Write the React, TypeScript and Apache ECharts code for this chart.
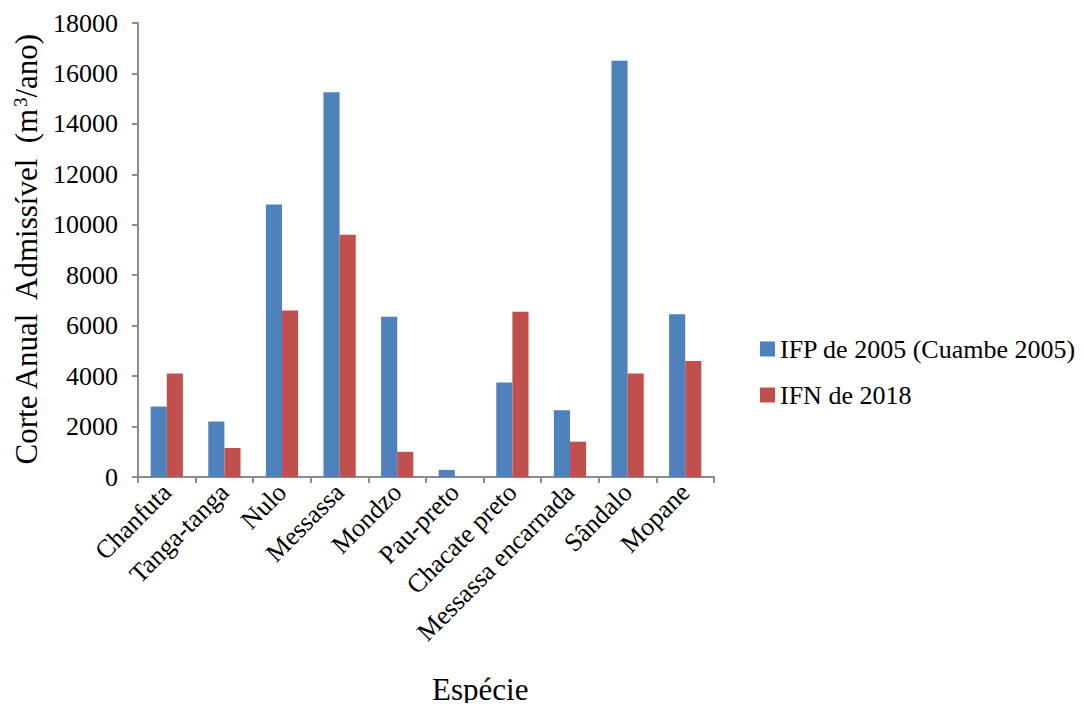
import React, { useEffect, useRef } from "react";
import * as echarts from "echarts";

const categories = [
  "Chanfuta",
  "Tanga-tanga",
  "Nulo",
  "Messassa",
  "Mondzo",
  "Pau-preto",
  "Chacate preto",
  "Messassa encarnada",
  "Sândalo",
  "Mopane",
];
const ifp2005 = [2800, 2200, 10800, 15250, 6350, 280, 3750, 2650, 16500, 6450];
const ifn2018 = [4100, 1150, 6600, 9600, 1000, 0, 6550, 1400, 4100, 4600];
const seriesNames = ["IFP de 2005 (Cuambe 2005)", "IFN de 2018"];
const yTicks = { min: 0, max: 18000, interval: 2000 };

const FONT = "Times New Roman, Liberation Serif, serif";

export default function App() {
  const ref = useRef<HTMLDivElement>(null);
  useEffect(() => {
    if (!ref.current) return;
    const chart = echarts.init(ref.current, undefined, { renderer: "svg" });
    chart.setOption({
      animation: false,
      textStyle: { fontFamily: FONT, color: "#000" },
      grid: { left: 138, right: 370, top: 23, bottom: 234, containLabel: false },
      legend: {
        orient: "vertical",
        left: 755,
        top: 330,
        itemWidth: 15,
        itemHeight: 15,
        itemGap: 18,
        icon: "rect",
        textStyle: { fontFamily: FONT, fontSize: 26, fontWeight: "normal", color: "#000", lineHeight: 28 },
        data: seriesNames,
      },
      xAxis: {
        type: "category",
        data: categories,
        axisLine: { lineStyle: { color: "#8c8c8c", width: 2 } },
        axisTick: { show: true, length: 6, alignWithLabel: false, lineStyle: { color: "#8c8c8c", width: 2 } },
        axisLabel: {
          rotate: 45,
          interval: 0,
          margin: 11,
          fontFamily: FONT,
          fontSize: 26,
          color: "#000",
        },
      },
      yAxis: {
        type: "value",
        min: yTicks.min,
        max: yTicks.max,
        interval: yTicks.interval,
        name: "Corte Anual  Admissível  (m{sup|3}/ano)",
        nameLocation: "middle",
        nameGap: 86,
        nameTextStyle: {
          fontFamily: FONT,
          fontSize: 31,
          color: "#000",
          rich: {
            sup: { fontFamily: FONT, fontSize: 19, verticalAlign: "top", padding: [0, 0, 12, 0], color: "#000" },
          },
        },
        splitLine: { show: false },
        axisLine: { show: true, lineStyle: { color: "#8c8c8c", width: 2 } },
        axisTick: { show: true, length: 6, lineStyle: { color: "#8c8c8c", width: 2 } },
        axisLabel: {
          fontFamily: FONT,
          fontSize: 26,
          fontWeight: "normal",
          color: "#000",
          margin: 20,
          formatter: (v: number) => String(v),
        },
      },
      graphic: [
        {
          type: "text",
          left: 432,
          top: 674,
          style: { text: "Espécie", fontFamily: FONT, fontSize: 31, fill: "#000" },
        },
      ],
      series: [
        {
          name: seriesNames[0],
          type: "bar",
          data: ifp2005,
          barGap: "0%",
          barCategoryGap: "44%",
          itemStyle: { color: "#4F81BD" },
        },
        {
          name: seriesNames[1],
          type: "bar",
          data: ifn2018,
          barGap: "0%",
          barCategoryGap: "44%",
          itemStyle: { color: "#C0504D" },
        },
      ],
    });
    return () => chart.dispose();
  }, []);
  return <div ref={ref} style={{ width: 1084, height: 711, margin: -8 }} />;
}
